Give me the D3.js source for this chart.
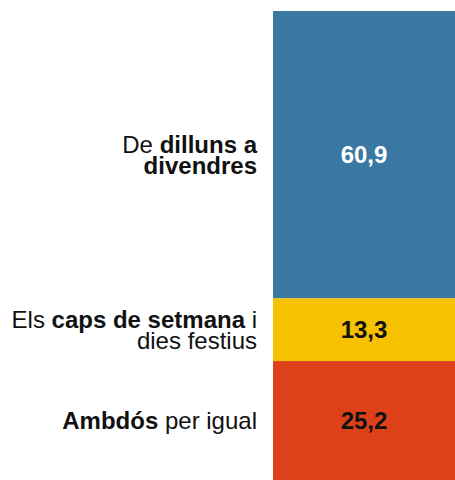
<!DOCTYPE html>
<html>
<head>
<meta charset="utf-8">
<script src="https://cdn.jsdelivr.net/npm/d3@7"></script>
<style>
  body { margin: 0; background: #fff; }
  svg { display: block; font-family: "Liberation Sans", Arial, sans-serif; }
</style>
</head>
<body>
<svg id="chart" width="455" height="480"></svg>
<script>
// each label is a list of lines, each line a list of [text, bold]
const categories = [
  [[["De ", false], ["dilluns a", true]], [["divendres", true]]],
  [[["Els ", false], ["caps de setmana", true], [" i", false]], [["dies festius", false]]],
  [[["Ambdós", true], [" per igual", false]]]
];
const values = [60.9, 13.3, 25.2];
const valueLabels = ["60,9", "13,3", "25,2"];
const colors = ["#3a77a1", "#f6c100", "#de4119"];
const valueColors = ["#ffffff", "#111111", "#111111"];

const width = 455, height = 480;
const margin = { top: 11, bottom: 0, barLeft: 273 };
const labelGap = 16;
const fontSize = 24;
const lineHeight = 21;

const svg = d3.select("#chart");

const x = d3.scaleBand().domain(["total"]).range([margin.barLeft, width]).padding(0);
const y = d3.scaleLinear().domain([0, d3.sum(values)]).range([margin.top, height - margin.bottom]);

const starts = [0, ...d3.cumsum(values)].slice(0, values.length);
const segs = values.map((v, i) => ({ v, i, y0: starts[i], y1: starts[i] + v }));

svg.append("g")
  .selectAll("rect")
  .data(segs)
  .join("rect")
  .attr("x", x("total"))
  .attr("width", x.bandwidth())
  .attr("y", d => y(d.y0))
  .attr("height", d => y(d.y1) - y(d.y0))
  .attr("fill", d => colors[d.i]);

svg.append("g")
  .selectAll("text")
  .data(segs)
  .join("text")
  .attr("x", x("total") + x.bandwidth() / 2)
  .attr("y", d => (y(d.y0) + y(d.y1)) / 2)
  .attr("dy", "0.35em")
  .attr("text-anchor", "middle")
  .attr("font-size", fontSize)
  .attr("font-weight", "bold")
  .attr("fill", d => valueColors[d.i])
  .text(d => valueLabels[d.i]);

const labels = svg.append("g");
segs.forEach(d => {
  const lines = categories[d.i];
  const mid = (y(d.y0) + y(d.y1)) / 2;
  const first = mid - (lines.length - 1) * lineHeight / 2 + fontSize * 0.35;
  const t = labels.append("text")
    .attr("text-anchor", "end")
    .attr("font-size", fontSize)
    .attr("fill", "#111");
  lines.forEach((line, li) => {
    line.forEach((part, pi) => {
      const ts = t.append("tspan")
        .attr("font-weight", part[1] ? "bold" : "normal")
        .style("white-space", "pre")
        .text(part[0]);
      if (pi === 0) ts.attr("x", margin.barLeft - labelGap).attr("y", first + li * lineHeight);
    });
  });
});
</script>
</body>
</html>
